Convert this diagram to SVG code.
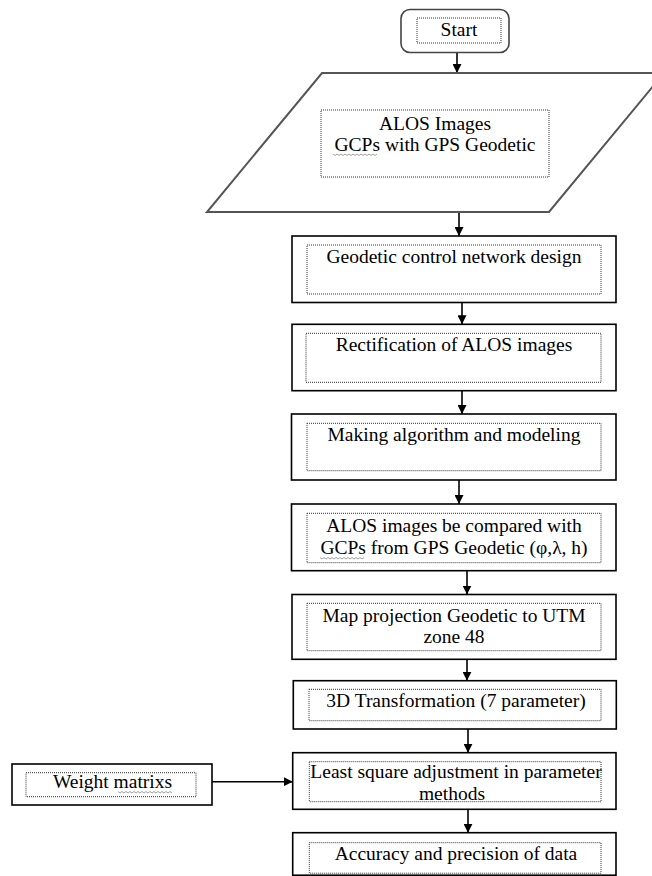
<svg xmlns="http://www.w3.org/2000/svg" width="652" height="876" viewBox="0 0 652 876">
<defs>
<marker id="ah" viewBox="0 0 10 10" refX="10" refY="5" markerWidth="9" markerHeight="9" markerUnits="userSpaceOnUse" orient="auto"><path d="M0,0 L10,5 L0,10 Z" fill="#000"/></marker>
<style>
.box{fill:#fff;stroke:#000;stroke-width:1.6}
.in{fill:none;stroke:#333;stroke-width:1;stroke-dasharray:1 1}
.t{font-family:"Liberation Serif","Times New Roman",serif;font-size:19.5px;fill:#000;text-anchor:middle}
.c{stroke:#000;stroke-width:1.6;fill:none;marker-end:url(#ah)}
.sq{fill:none;stroke:#888;stroke-width:0.8}
</style>
</defs>
<rect width="652" height="876" fill="#fff"/>
<g id="connectors">
<line class="c" x1="457" y1="53" x2="457" y2="73"/>
<line class="c" x1="459" y1="212" x2="459" y2="236"/>
<line class="c" x1="462" y1="302.5" x2="462" y2="324.3"/>
<line class="c" x1="462" y1="390.7" x2="462" y2="414"/>
<line class="c" x1="459" y1="480" x2="459" y2="504"/>
<line class="c" x1="467" y1="570.7" x2="467" y2="594.5"/>
<line class="c" x1="467" y1="659.3" x2="467" y2="680.7"/>
<line class="c" x1="468" y1="729" x2="468" y2="752.7"/>
<line class="c" x1="468" y1="809.3" x2="468" y2="832.7"/>
<line class="c" x1="212" y1="781.7" x2="292.7" y2="781.7"/>
</g>
<g id="start">
<rect x="401" y="9.5" width="108" height="43" rx="9" fill="#fff" stroke="#444" stroke-width="1.6"/>
<rect class="in" x="417" y="18" width="84" height="25"/>
<text class="t" x="459" y="36">Start</text>
</g>
<g id="input">
<polygon points="322,73 664,73 549,212 207,212" fill="#fff" stroke="#555" stroke-width="2"/>
<rect class="in" x="321" y="110" width="228" height="67"/>
<text class="t" x="435" y="129.5">ALOS Images</text>
<text class="t" x="435" y="151">GCPs with GPS Geodetic</text>
<path class="sq" d="M333,154 l2,1.5 l2,-1.5 l2,1.5 l2,-1.5 l2,1.5 l2,-1.5 l2,1.5 l2,-1.5 l2,1.5 l2,-1.5 l2,1.5 l2,-1.5 l2,1.5 l2,-1.5 l2,1.5 l2,-1.5 l2,1.5 l2,-1.5 l2,1.5 l2,-1.5 l2,1.5 l2,-1.5"/>
</g>
<g id="network">
<rect class="box" x="292" y="236" width="324" height="66.5"/>
<rect class="in" x="307" y="245" width="294" height="49"/>
<text class="t" x="454" y="262.7">Geodetic control network design</text>
</g>
<g id="rectification">
<rect class="box" x="292" y="324.3" width="324" height="66.4"/>
<rect class="in" x="306" y="333.3" width="295" height="49"/>
<text class="t" x="454" y="350.7">Rectification of ALOS images</text>
</g>
<g id="algorithm">
<rect class="box" x="291.5" y="414" width="324.5" height="66"/>
<rect class="in" x="307" y="423.3" width="294" height="47.4"/>
<text class="t" x="454" y="440.7">Making algorithm and modeling</text>
</g>
<g id="compare">
<rect class="box" x="291.5" y="504" width="324.5" height="66.7"/>
<rect class="in" x="307" y="513.3" width="294" height="49.4"/>
<text class="t" x="454" y="531.7">ALOS images be compared with</text>
<text class="t" x="454" y="554">GCPs from GPS Geodetic (φ,λ, h)</text>
<path class="sq" d="M320,557.5 l2,1.5 l2,-1.5 l2,1.5 l2,-1.5 l2,1.5 l2,-1.5 l2,1.5 l2,-1.5 l2,1.5 l2,-1.5 l2,1.5 l2,-1.5 l2,1.5 l2,-1.5 l2,1.5 l2,-1.5 l2,1.5 l2,-1.5 l2,1.5 l2,-1.5 l2,1.5 l2,-1.5"/>
</g>
<g id="projection">
<rect class="box" x="292" y="594.5" width="324" height="64.8"/>
<rect class="in" x="307" y="603.3" width="294" height="47.4"/>
<text class="t" x="454" y="621.7">Map projection Geodetic to UTM</text>
<text class="t" x="454" y="642.7">zone 48</text>
</g>
<g id="transformation">
<rect class="box" x="293.3" y="680.7" width="323" height="48.3"/>
<rect class="in" x="309" y="689.3" width="292" height="31.4"/>
<text class="t" x="456" y="706.7">3D Transformation (7 parameter)</text>
</g>
<g id="weight">
<rect class="box" x="12" y="764" width="200" height="41"/>
<rect class="in" x="26" y="772.7" width="170" height="24"/>
<text class="t" x="112.5" y="788.3">Weight matrixs</text>
<path class="sq" d="M118,791.5 l2,1.5 l2,-1.5 l2,1.5 l2,-1.5 l2,1.5 l2,-1.5 l2,1.5 l2,-1.5 l2,1.5 l2,-1.5 l2,1.5 l2,-1.5 l2,1.5 l2,-1.5 l2,1.5 l2,-1.5 l2,1.5 l2,-1.5 l2,1.5 l2,-1.5 l2,1.5 l2,-1.5 l2,1.5 l2,-1.5 l2,1.5 l2,-1.5 l2,1.5"/>
</g>
<g id="adjustment">
<rect class="box" x="292.7" y="752.7" width="323.3" height="56.6"/>
<rect class="in" x="309.3" y="761.7" width="291.7" height="40"/>
<text class="t" x="456" y="778.3">Least square adjustment in parameter</text>
<text class="t" x="452" y="800">methods</text>
</g>
<g id="accuracy">
<rect class="box" x="292.7" y="832.7" width="323.3" height="42.5"/>
<rect class="in" x="309.3" y="842.7" width="291.7" height="30.5"/>
<text class="t" x="456" y="860">Accuracy and precision of data</text>
</g>
</svg>
